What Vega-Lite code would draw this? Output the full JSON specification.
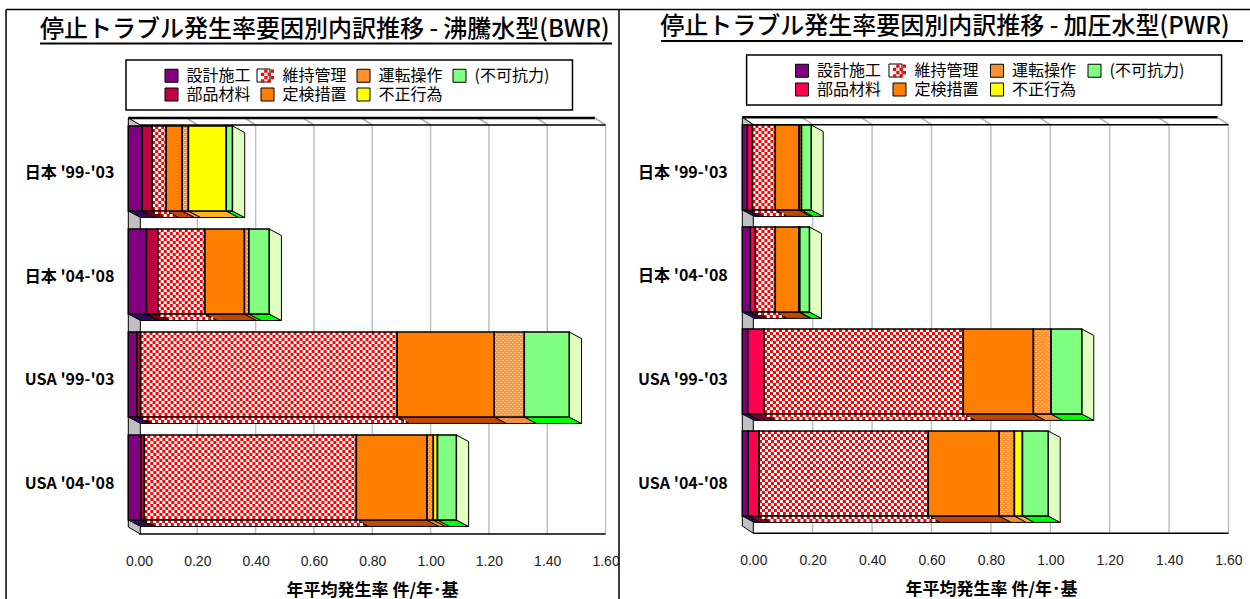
{
  "$schema": "https://vega.github.io/schema/vega-lite/v6.json",
  "padding": 0,
  "spacing": 0,
  "bounds": "flush",
  "background": "white",
  "resolve": {"scale": {"color": "independent"}, "legend": {"color": "independent"}},
  "datasets": {
    "one": [{"k": 1}],
    "bwr": [
      {"period": "日本 '99-'03", "cause": "設計施工", "value": 0.047},
      {"period": "日本 '99-'03", "cause": "部品材料", "value": 0.035},
      {"period": "日本 '99-'03", "cause": "維持管理", "value": 0.048},
      {"period": "日本 '99-'03", "cause": "定検措置", "value": 0.055},
      {"period": "日本 '99-'03", "cause": "運転操作", "value": 0.021},
      {"period": "日本 '99-'03", "cause": "不正行為", "value": 0.13},
      {"period": "日本 '99-'03", "cause": "(不可抗力)", "value": 0.021},
      {"period": "日本 '04-'08", "cause": "設計施工", "value": 0.062},
      {"period": "日本 '04-'08", "cause": "部品材料", "value": 0.039},
      {"period": "日本 '04-'08", "cause": "維持管理", "value": 0.161},
      {"period": "日本 '04-'08", "cause": "定検措置", "value": 0.136},
      {"period": "日本 '04-'08", "cause": "運転操作", "value": 0.015},
      {"period": "日本 '04-'08", "cause": "(不可抗力)", "value": 0.07},
      {"period": "USA '99-'03", "cause": "設計施工", "value": 0.029},
      {"period": "USA '99-'03", "cause": "部品材料", "value": 0.013},
      {"period": "USA '99-'03", "cause": "維持管理", "value": 0.88},
      {"period": "USA '99-'03", "cause": "定検措置", "value": 0.333},
      {"period": "USA '99-'03", "cause": "運転操作", "value": 0.103},
      {"period": "USA '99-'03", "cause": "(不可抗力)", "value": 0.154},
      {"period": "USA '04-'08", "cause": "設計施工", "value": 0.0425},
      {"period": "USA '04-'08", "cause": "部品材料", "value": 0.0125},
      {"period": "USA '04-'08", "cause": "維持管理", "value": 0.727},
      {"period": "USA '04-'08", "cause": "定検措置", "value": 0.242},
      {"period": "USA '04-'08", "cause": "運転操作", "value": 0.022},
      {"period": "USA '04-'08", "cause": "不正行為", "value": 0.014},
      {"period": "USA '04-'08", "cause": "(不可抗力)", "value": 0.065}
    ],
    "pwr": [
      {"period": "日本 '99-'03", "cause": "設計施工", "value": 0.017},
      {"period": "日本 '99-'03", "cause": "部品材料", "value": 0.017},
      {"period": "日本 '99-'03", "cause": "維持管理", "value": 0.077},
      {"period": "日本 '99-'03", "cause": "定検措置", "value": 0.08},
      {"period": "日本 '99-'03", "cause": "運転操作", "value": 0.008},
      {"period": "日本 '99-'03", "cause": "(不可抗力)", "value": 0.033},
      {"period": "日本 '04-'08", "cause": "設計施工", "value": 0.027},
      {"period": "日本 '04-'08", "cause": "部品材料", "value": 0.017},
      {"period": "日本 '04-'08", "cause": "維持管理", "value": 0.067},
      {"period": "日本 '04-'08", "cause": "定検措置", "value": 0.079},
      {"period": "日本 '04-'08", "cause": "運転操作", "value": 0.003},
      {"period": "日本 '04-'08", "cause": "(不可抗力)", "value": 0.033},
      {"period": "USA '99-'03", "cause": "設計施工", "value": 0.018},
      {"period": "USA '99-'03", "cause": "部品材料", "value": 0.055},
      {"period": "USA '99-'03", "cause": "維持管理", "value": 0.671},
      {"period": "USA '99-'03", "cause": "定検措置", "value": 0.236},
      {"period": "USA '99-'03", "cause": "運転操作", "value": 0.059},
      {"period": "USA '99-'03", "cause": "(不可抗力)", "value": 0.104},
      {"period": "USA '04-'08", "cause": "設計施工", "value": 0.02},
      {"period": "USA '04-'08", "cause": "部品材料", "value": 0.036},
      {"period": "USA '04-'08", "cause": "維持管理", "value": 0.57},
      {"period": "USA '04-'08", "cause": "定検措置", "value": 0.239},
      {"period": "USA '04-'08", "cause": "運転操作", "value": 0.051},
      {"period": "USA '04-'08", "cause": "不正行為", "value": 0.027},
      {"period": "USA '04-'08", "cause": "(不可抗力)", "value": 0.087}
    ],
    "ticks": [{"tick": 0}, {"tick": 0.2}, {"tick": 0.4}, {"tick": 0.6}, {"tick": 0.8}, {"tick": 1.0}, {"tick": 1.2}, {"tick": 1.4}, {"tick": 1.6}],
    "wallEdges": [{"edge": 0}, {"edge": 1}]
  },
  "hconcat": [
    {
      "width": 619,
      "height": 599,
      "view": {"stroke": null, "fill": "white"},
      "title": {"text": "停止トラブル発生率要因別内訳推移  -  沸騰水型(BWR)", "anchor": "start", "dx": 40, "offset": -42, "font": "Noto Sans CJK JP", "fontSize": 24, "fontWeight": 500, "color": "black"},
      "layer": [
        {
          "data": {"name": "ticks"},
          "transform": [{"calculate": "125", "as": "gy"}, {"calculate": "534", "as": "gy2"}],
          "mark": {"type": "rule", "color": "#C0C0C0", "strokeWidth": 1.5},
          "encoding": {
            "x": {"field": "tick", "type": "quantitative",
              "scale": {"domain": [-0.4767, 1.6461], "nice": false, "zero": false},
              "axis": {"title": "年平均発生率 件/年･基", "orient": "bottom", "offset": -65, "values": [0, 0.2, 0.4, 0.6, 0.8, 1.0, 1.2, 1.4, 1.6], "format": ".2f", "domain": false, "ticks": false, "grid": false, "labelBound": false, "labelFlush": false, "labelPadding": 20, "labelFont": "Liberation Sans", "labelFontSize": 14, "labelColor": "#222", "titleFont": "Noto Sans CJK JP", "titleFontSize": 17, "titleFontWeight": "bold", "titleColor": "black", "titleX": 372, "titleY": 61, "titleBaseline": "alphabetic"}},
            "y": {"field": "gy", "type": "quantitative",
              "scale": {"domain": [599, 0], "nice": false, "zero": false},
              "axis": {"title": null, "orient": "left", "offset": -128, "values": [172, 276, 379, 483], "labelExpr": "datum.value < 200 ? \"日本  '99-'03\" : datum.value < 300 ? \"日本  '04-'08\" : datum.value < 400 ? \"USA  '99-'03\" : \"USA  '04-'08\"", "domain": false, "ticks": false, "grid": false, "labelPadding": 14, "labelFont": "Noto Sans CJK JP", "labelFontSize": 16, "labelFontWeight": "bold", "labelColor": "black", "labelBound": false, "labelOverlap": false}},
            "y2": {"field": "gy2"}
          }
        },
        {
          "data": {"name": "ticks"},
          "transform": [{"calculate": "datum.tick - 0.0367", "as": "front"}, {"calculate": "118", "as": "gy"}, {"calculate": "125", "as": "gy2"}],
          "mark": {"type": "rule", "color": "#B0B0B0", "strokeWidth": 1.5},
          "encoding": {
            "x": {"field": "front", "type": "quantitative"},
            "x2": {"field": "tick"},
            "y": {"field": "gy", "type": "quantitative"},
            "y2": {"field": "gy2"}
          }
        },
        {
          "data": {"name": "wallEdges"},
          "transform": [
            {"calculate": "-0.0367 + datum.edge * 0.0412", "as": "wx"},
            {"calculate": "118 + datum.edge * 7", "as": "wy"},
            {"calculate": "527 + datum.edge * 7", "as": "wy2"}
          ],
          "mark": {"type": "area", "orient": "vertical", "fill": "#C0C0C0", "stroke": "black", "strokeWidth": 1},
          "encoding": {
            "x": {"field": "wx", "type": "quantitative"},
            "y": {"field": "wy", "type": "quantitative", "stack": null},
            "y2": {"field": "wy2"}
          }
        },
        {
          "data": {"name": "one"},
          "transform": [{"calculate": "-0.0367", "as": "ax"}, {"calculate": "1.5633", "as": "bx"}, {"calculate": "118", "as": "ay"}],
          "mark": {"type": "rule", "color": "black", "strokeWidth": 2.5},
          "encoding": {"x": {"field": "ax", "type": "quantitative"}, "x2": {"field": "bx"}, "y": {"field": "ay", "type": "quantitative"}}
        },
        {
          "data": {"name": "one"},
          "transform": [{"calculate": "0", "as": "ax"}, {"calculate": "1.6", "as": "bx"}, {"calculate": "[125, 534]", "as": "ay"}, {"flatten": ["ay"]}],
          "mark": {"type": "rule", "color": "black", "strokeWidth": 1.5},
          "encoding": {"x": {"field": "ax", "type": "quantitative"}, "x2": {"field": "bx"}, "y": {"field": "ay", "type": "quantitative"}}
        },
        {
          "data": {"name": "one"},
          "transform": [{"calculate": "-0.0446", "as": "ax"}, {"calculate": "1.4866", "as": "bx"}, {"calculate": "60", "as": "ay"}, {"calculate": "110", "as": "by"}],
          "mark": {"type": "rect", "fill": "white", "stroke": "black", "strokeWidth": 1.5},
          "encoding": {"x": {"field": "ax", "type": "quantitative"}, "x2": {"field": "bx"}, "y": {"field": "ay", "type": "quantitative"}, "y2": {"field": "by"}}
        },
        {
          "data": {"name": "one"},
          "transform": [{"calculate": "0.4047", "as": "ax"}, {"calculate": "0.4492", "as": "bx"}, {"calculate": "69", "as": "ay"}, {"calculate": "82", "as": "by"}],
          "mark": {"type": "rect", "fill": "white", "stroke": "black", "strokeWidth": 1},
          "encoding": {"x": {"field": "ax", "type": "quantitative"}, "x2": {"field": "bx"}, "y": {"field": "ay", "type": "quantitative"}, "y2": {"field": "by"}}
        },
        {
          "data": {"name": "one"},
          "transform": [{"calculate": "-0.3395", "as": "ax"}, {"calculate": "1.622", "as": "bx"}, {"calculate": "43.5", "as": "ay"}],
          "mark": {"type": "rule", "color": "black", "strokeWidth": 2},
          "encoding": {"x": {"field": "ax", "type": "quantitative"}, "x2": {"field": "bx"}, "y": {"field": "ay", "type": "quantitative"}}
        },
        {
          "data": {"name": "one"},
          "transform": [{"calculate": "-0.456", "as": "ax"}, {"calculate": "9.5", "as": "ay"}, {"calculate": "599", "as": "by"}],
          "mark": {"type": "rule", "color": "black", "strokeWidth": 1.5},
          "encoding": {"x": {"field": "ax", "type": "quantitative"}, "y": {"field": "ay", "type": "quantitative"}, "y2": {"field": "by"}}
        },
        {
          "data": {"name": "one"},
          "transform": [{"calculate": "-0.456", "as": "ax"}, {"calculate": "1.6461", "as": "bx"}, {"calculate": "9.5", "as": "ay"}],
          "mark": {"type": "rule", "color": "black", "strokeWidth": 1.5},
          "encoding": {"x": {"field": "ax", "type": "quantitative"}, "x2": {"field": "bx"}, "y": {"field": "ay", "type": "quantitative"}}
        },
        {
          "data": {"name": "bwr"},
          "transform": [
            {"calculate": "indexof(['設計施工','部品材料','維持管理','定検措置','運転操作','不正行為','(不可抗力)'], datum.cause)", "as": "seq"},
            {"calculate": "indexof([\"日本 '99-'03\",\"日本 '04-'08\",\"USA '99-'03\",\"USA '04-'08\"], datum.period)", "as": "slot"},
            {"stack": "value", "groupby": ["period"], "sort": [{"field": "seq", "order": "ascending"}], "as": ["start", "end"]},
            {"calculate": "datum.start - 0.0367", "as": "x0"},
            {"calculate": "datum.end - 0.0367", "as": "x1"},
            {"calculate": "126 + 103 * datum.slot", "as": "top"},
            {"calculate": "datum.top + 85", "as": "bot"},
            {"calculate": "{'設計施工':'#2E0A5A','部品材料':'#7A0010','維持管理':'#FF0000','定検措置':'#C04800','運転操作':'#F09040','不正行為':'#FFB020','(不可抗力)':'#00FF00'}[datum.cause]", "as": "shade"}
          ],
          "layer": [
            {
              "transform": [
                {"calculate": "[datum.x0, datum.x1, datum.x0 + 0.0422, datum.x1 + 0.0422]", "as": "px"},
                {"flatten": ["px"]},
                {"calculate": "datum.bot + max(0, datum.px - datum.x1) / 0.0422 * 6.5", "as": "fy"},
                {"calculate": "datum.bot + min(1, (datum.px - datum.x0) / 0.0422) * 6.5", "as": "fy2"}
              ],
              "mark": {"type": "area", "orient": "vertical", "stroke": "black", "strokeWidth": 1},
              "encoding": {
                "x": {"field": "px", "type": "quantitative"},
                "y": {"field": "fy", "type": "quantitative", "stack": null},
                "y2": {"field": "fy2"},
                "fill": {"field": "shade", "type": "nominal", "scale": null, "legend": null},
                "detail": [{"field": "period"}, {"field": "cause"}]
              }
            },
            {
              "transform": [
                {"filter": "datum.seq === 6"},
                {"calculate": "[datum.x1, datum.x1 + 0.0422]", "as": "px"},
                {"flatten": ["px"]},
                {"calculate": "datum.top + (datum.px - datum.x1) / 0.0422 * 6.5", "as": "fy"},
                {"calculate": "datum.bot + (datum.px - datum.x1) / 0.0422 * 6.5", "as": "fy2"}
              ],
              "mark": {"type": "area", "orient": "vertical", "fill": "#E0FFC0", "stroke": "black", "strokeWidth": 1},
              "encoding": {
                "x": {"field": "px", "type": "quantitative"},
                "y": {"field": "fy", "type": "quantitative", "stack": null},
                "y2": {"field": "fy2"},
                "detail": {"field": "period"}
              }
            },
            {
              "mark": {"type": "rect"},
              "encoding": {
                "x": {"field": "x0", "type": "quantitative"},
                "x2": {"field": "x1"},
                "y": {"field": "top", "type": "quantitative"},
                "y2": {"field": "bot"},
                "color": {
                  "field": "cause", "type": "nominal",
                  "scale": {"domain": ["設計施工", "維持管理", "運転操作", "(不可抗力)", "部品材料", "定検措置", "不正行為"], "range": ["#800080", "#FF0000", "#FF9030", "#80FF80", "#C00040", "#FF8000", "#FFFF00"]},
                  "legend": {"orient": "none", "legendX": 163.5, "legendY": 67.5, "title": null, "columns": 4, "direction": "horizontal", "padding": 0, "symbolType": "square", "symbolSize": 169, "symbolOpacity": 1, "columnPadding": 7, "rowPadding": 1, "labelOffset": 7, "labelFont": "Noto Sans CJK JP", "labelFontSize": 16, "labelColor": "black", "labelLimit": 200,
                    "encoding": {"symbols": {
                      "shape": {"value": {"signal": "datum.value === '維持管理' ? 'M-.5-1H0V-.5H-.5ZM.5-1H1V-.5H.5ZM-1-.5H-.5V0H-1ZM0-.5H.5V0H0ZM-.5 0H0V.5H-.5ZM.5 0H1V.5H.5ZM-1 .5H-.5V1H-1ZM0 .5H.5V1H0Z' : 'square'"}},
                      "stroke": {"value": "black"},
                      "strokeWidth": {"value": {"signal": "datum.value === '維持管理' ? 0 : 1"}}
                    }}
                  }
                }
              }
            },
            {
              "transform": [
                {"filter": "datum.cause === '維持管理'"},
                {"calculate": "[1.5,4.5,7.5,10.5,13.5,16.5,19.5,22.5,25.5,28.5,31.5,34.5,37.5,40.5,43.5,46.5,49.5,52.5,55.5,58.5,61.5,64.5,67.5,70.5,73.5,76.5,79.5,82.5,86.5,89.5]", "as": "off"},
                {"flatten": ["off"]},
                {"calculate": "datum.off > 85 ? (datum.off - 85) / 6.5 * 0.0422 : 0", "as": "sh"},
                {"calculate": "datum.x0 + datum.sh", "as": "rx"},
                {"calculate": "datum.x1 + datum.sh", "as": "rx2"},
                {"calculate": "datum.top + datum.off", "as": "ry"},
                {"calculate": "floor(datum.off / 3) % 2", "as": "odd"}
              ],
              "layer": [
                {
                  "transform": [{"filter": "datum.odd === 0"}],
                  "mark": {"type": "rule", "color": "white", "strokeWidth": 3, "strokeDash": [3, 3]},
                  "encoding": {"x": {"field": "rx", "type": "quantitative"}, "x2": {"field": "rx2"}, "y": {"field": "ry", "type": "quantitative"}}
                },
                {
                  "transform": [{"filter": "datum.odd === 1"}],
                  "mark": {"type": "rule", "color": "white", "strokeWidth": 3, "strokeDash": [3, 3], "strokeDashOffset": 3},
                  "encoding": {"x": {"field": "rx", "type": "quantitative"}, "x2": {"field": "rx2"}, "y": {"field": "ry", "type": "quantitative"}}
                }
              ]
            },
            {
              "transform": [
                {"filter": "datum.cause === '運転操作'"},
                {"calculate": "[0.5,2.5,4.5,6.5,8.5,10.5,12.5,14.5,16.5,18.5,20.5,22.5,24.5,26.5,28.5,30.5,32.5,34.5,36.5,38.5,40.5,42.5,44.5,46.5,48.5,50.5,52.5,54.5,56.5,58.5,60.5,62.5,64.5,66.5,68.5,70.5,72.5,74.5,76.5,78.5,80.5,82.5,84.5]", "as": "off"},
                {"flatten": ["off"]},
                {"calculate": "datum.top + datum.off", "as": "ry"},
                {"calculate": "floor(datum.off / 2) % 2", "as": "odd"}
              ],
              "layer": [
                {
                  "transform": [{"filter": "datum.odd === 0"}],
                  "mark": {"type": "rule", "color": "#FFD0A0", "strokeWidth": 1, "strokeDash": [2, 2]},
                  "encoding": {"x": {"field": "x0", "type": "quantitative"}, "x2": {"field": "x1"}, "y": {"field": "ry", "type": "quantitative"}}
                },
                {
                  "transform": [{"filter": "datum.odd === 1"}],
                  "mark": {"type": "rule", "color": "#FFD0A0", "strokeWidth": 1, "strokeDash": [2, 2], "strokeDashOffset": 2},
                  "encoding": {"x": {"field": "x0", "type": "quantitative"}, "x2": {"field": "x1"}, "y": {"field": "ry", "type": "quantitative"}}
                }
              ]
            },
            {
              "mark": {"type": "rect", "fillOpacity": 0, "stroke": "black", "strokeWidth": 1.5},
              "encoding": {
                "x": {"field": "x0", "type": "quantitative"},
                "x2": {"field": "x1"},
                "y": {"field": "top", "type": "quantitative"},
                "y2": {"field": "bot"}
              }
            }
          ]
        }
      ]
    },
    {
      "width": 631,
      "height": 599,
      "view": {"stroke": null, "fill": "white"},
      "title": {"text": "停止トラブル発生率要因別内訳推移   -   加圧水型(PWR)", "anchor": "start", "dx": 42, "offset": -39, "font": "Noto Sans CJK JP", "fontSize": 24, "fontWeight": 500, "color": "black"},
      "layer": [
        {
          "data": {"name": "ticks"},
          "transform": [{"calculate": "124.7", "as": "gy"}, {"calculate": "533.3", "as": "gy2"}],
          "mark": {"type": "rule", "color": "#C0C0C0", "strokeWidth": 1.5},
          "encoding": {
            "x": {"field": "tick", "type": "quantitative",
              "scale": {"domain": [-0.4522, 1.6724], "nice": false, "zero": false},
              "axis": {"title": "年平均発生率 件/年･基", "orient": "bottom", "offset": -65.7, "values": [0, 0.2, 0.4, 0.6, 0.8, 1.0, 1.2, 1.4, 1.6], "format": ".2f", "domain": false, "ticks": false, "grid": false, "labelBound": false, "labelFlush": false, "labelPadding": 20, "labelFont": "Liberation Sans", "labelFontSize": 14, "labelColor": "#222", "titleFont": "Noto Sans CJK JP", "titleFontSize": 17, "titleFontWeight": "bold", "titleColor": "black", "titleX": 372, "titleY": 61, "titleBaseline": "alphabetic"}},
            "y": {"field": "gy", "type": "quantitative",
              "scale": {"domain": [599, 0], "nice": false, "zero": false},
              "axis": {"title": null, "orient": "left", "offset": -123.3, "values": [172, 275, 379, 483], "labelExpr": "datum.value < 200 ? \"日本  '99-'03\" : datum.value < 300 ? \"日本  '04-'08\" : datum.value < 400 ? \"USA  '99-'03\" : \"USA  '04-'08\"", "domain": false, "ticks": false, "grid": false, "labelPadding": 15, "labelFont": "Noto Sans CJK JP", "labelFontSize": 16, "labelFontWeight": "bold", "labelColor": "black", "labelBound": false, "labelOverlap": false}},
            "y2": {"field": "gy2"}
          }
        },
        {
          "data": {"name": "ticks"},
          "transform": [{"calculate": "datum.tick - 0.037", "as": "front"}, {"calculate": "117.3", "as": "gy"}, {"calculate": "124.7", "as": "gy2"}],
          "mark": {"type": "rule", "color": "#B0B0B0", "strokeWidth": 1.5},
          "encoding": {
            "x": {"field": "front", "type": "quantitative"},
            "x2": {"field": "tick"},
            "y": {"field": "gy", "type": "quantitative"},
            "y2": {"field": "gy2"}
          }
        },
        {
          "data": {"name": "wallEdges"},
          "transform": [
            {"calculate": "-0.037 + datum.edge * 0.037", "as": "wx"},
            {"calculate": "117.3 + datum.edge * 7.4", "as": "wy"},
            {"calculate": "526 + datum.edge * 7.3", "as": "wy2"}
          ],
          "mark": {"type": "area", "orient": "vertical", "fill": "#C0C0C0", "stroke": "black", "strokeWidth": 1},
          "encoding": {
            "x": {"field": "wx", "type": "quantitative"},
            "y": {"field": "wy", "type": "quantitative", "stack": null},
            "y2": {"field": "wy2"}
          }
        },
        {
          "data": {"name": "one"},
          "transform": [{"calculate": "-0.037", "as": "ax"}, {"calculate": "1.563", "as": "bx"}, {"calculate": "117.3", "as": "ay"}],
          "mark": {"type": "rule", "color": "black", "strokeWidth": 2.5},
          "encoding": {"x": {"field": "ax", "type": "quantitative"}, "x2": {"field": "bx"}, "y": {"field": "ay", "type": "quantitative"}}
        },
        {
          "data": {"name": "one"},
          "transform": [{"calculate": "0", "as": "ax"}, {"calculate": "1.6", "as": "bx"}, {"calculate": "[124.7, 533.3]", "as": "ay"}, {"flatten": ["ay"]}],
          "mark": {"type": "rule", "color": "black", "strokeWidth": 1.5},
          "encoding": {"x": {"field": "ax", "type": "quantitative"}, "x2": {"field": "bx"}, "y": {"field": "ay", "type": "quantitative"}}
        },
        {
          "data": {"name": "one"},
          "transform": [{"calculate": "-0.0226", "as": "ax"}, {"calculate": "1.5768", "as": "bx"}, {"calculate": "55", "as": "ay"}, {"calculate": "105", "as": "by"}],
          "mark": {"type": "rect", "fill": "white", "stroke": "black", "strokeWidth": 1.5},
          "encoding": {"x": {"field": "ax", "type": "quantitative"}, "x2": {"field": "bx"}, "y": {"field": "ay", "type": "quantitative"}, "y2": {"field": "by"}}
        },
        {
          "data": {"name": "one"},
          "transform": [{"calculate": "0.4569", "as": "ax"}, {"calculate": "0.5007", "as": "bx"}, {"calculate": "64", "as": "ay"}, {"calculate": "77", "as": "by"}],
          "mark": {"type": "rect", "fill": "white", "stroke": "black", "strokeWidth": 1},
          "encoding": {"x": {"field": "ax", "type": "quantitative"}, "x2": {"field": "bx"}, "y": {"field": "ay", "type": "quantitative"}, "y2": {"field": "by"}}
        },
        {
          "data": {"name": "one"},
          "transform": [{"calculate": "-0.3104", "as": "ax"}, {"calculate": "1.6488", "as": "bx"}, {"calculate": "41", "as": "ay"}],
          "mark": {"type": "rule", "color": "black", "strokeWidth": 2},
          "encoding": {"x": {"field": "ax", "type": "quantitative"}, "x2": {"field": "bx"}, "y": {"field": "ay", "type": "quantitative"}}
        },
        {
          "data": {"name": "one"},
          "transform": [{"calculate": "-0.4522", "as": "ax"}, {"calculate": "9.5", "as": "ay"}, {"calculate": "599", "as": "by"}],
          "mark": {"type": "rule", "color": "black", "strokeWidth": 1.5},
          "encoding": {"x": {"field": "ax", "type": "quantitative"}, "y": {"field": "ay", "type": "quantitative"}, "y2": {"field": "by"}}
        },
        {
          "data": {"name": "one"},
          "transform": [{"calculate": "-0.4522", "as": "ax"}, {"calculate": "1.6724", "as": "bx"}, {"calculate": "9.5", "as": "ay"}],
          "mark": {"type": "rule", "color": "black", "strokeWidth": 1.5},
          "encoding": {"x": {"field": "ax", "type": "quantitative"}, "x2": {"field": "bx"}, "y": {"field": "ay", "type": "quantitative"}}
        },
        {
          "data": {"name": "pwr"},
          "transform": [
            {"calculate": "indexof(['設計施工','部品材料','維持管理','定検措置','運転操作','不正行為','(不可抗力)'], datum.cause)", "as": "seq"},
            {"calculate": "indexof([\"日本 '99-'03\",\"日本 '04-'08\",\"USA '99-'03\",\"USA '04-'08\"], datum.period)", "as": "slot"},
            {"stack": "value", "groupby": ["period"], "sort": [{"field": "seq", "order": "ascending"}], "as": ["start", "end"]},
            {"calculate": "datum.start - 0.037", "as": "x0"},
            {"calculate": "datum.end - 0.037", "as": "x1"},
            {"calculate": "125 + 102 * datum.slot", "as": "top"},
            {"calculate": "datum.top + 85", "as": "bot"},
            {"calculate": "{'設計施工':'#2E0A5A','部品材料':'#800028','維持管理':'#FF0000','定検措置':'#C04800','運転操作':'#F09040','不正行為':'#FFB020','(不可抗力)':'#00FF00'}[datum.cause]", "as": "shade"}
          ],
          "layer": [
            {
              "transform": [
                {"calculate": "[datum.x0, datum.x1, datum.x0 + 0.0404, datum.x1 + 0.0404]", "as": "px"},
                {"flatten": ["px"]},
                {"calculate": "datum.bot + max(0, datum.px - datum.x1) / 0.0404 * 6.4", "as": "fy"},
                {"calculate": "datum.bot + min(1, (datum.px - datum.x0) / 0.0404) * 6.4", "as": "fy2"}
              ],
              "mark": {"type": "area", "orient": "vertical", "stroke": "black", "strokeWidth": 1},
              "encoding": {
                "x": {"field": "px", "type": "quantitative"},
                "y": {"field": "fy", "type": "quantitative", "stack": null},
                "y2": {"field": "fy2"},
                "fill": {"field": "shade", "type": "nominal", "scale": null, "legend": null},
                "detail": [{"field": "period"}, {"field": "cause"}]
              }
            },
            {
              "transform": [
                {"filter": "datum.seq === 6"},
                {"calculate": "[datum.x1, datum.x1 + 0.0404]", "as": "px"},
                {"flatten": ["px"]},
                {"calculate": "datum.top + (datum.px - datum.x1) / 0.0404 * 6.4", "as": "fy"},
                {"calculate": "datum.bot + (datum.px - datum.x1) / 0.0404 * 6.4", "as": "fy2"}
              ],
              "mark": {"type": "area", "orient": "vertical", "fill": "#E0FFC0", "stroke": "black", "strokeWidth": 1},
              "encoding": {
                "x": {"field": "px", "type": "quantitative"},
                "y": {"field": "fy", "type": "quantitative", "stack": null},
                "y2": {"field": "fy2"},
                "detail": {"field": "period"}
              }
            },
            {
              "mark": {"type": "rect"},
              "encoding": {
                "x": {"field": "x0", "type": "quantitative"},
                "x2": {"field": "x1"},
                "y": {"field": "top", "type": "quantitative"},
                "y2": {"field": "bot"},
                "color": {
                  "field": "cause", "type": "nominal",
                  "scale": {"domain": ["設計施工", "維持管理", "運転操作", "(不可抗力)", "部品材料", "定検措置", "不正行為"], "range": ["#800080", "#FF0000", "#FF9030", "#80FF80", "#FF0050", "#FF8000", "#FFFF00"]},
                  "legend": {"orient": "none", "legendX": 175, "legendY": 62.5, "title": null, "columns": 4, "direction": "horizontal", "padding": 0, "symbolType": "square", "symbolSize": 169, "symbolOpacity": 1, "columnPadding": 8.5, "rowPadding": 1, "labelOffset": 7, "labelFont": "Noto Sans CJK JP", "labelFontSize": 16, "labelColor": "black", "labelLimit": 200,
                    "encoding": {"symbols": {
                      "shape": {"value": {"signal": "datum.value === '維持管理' ? 'M-.5-1H0V-.5H-.5ZM.5-1H1V-.5H.5ZM-1-.5H-.5V0H-1ZM0-.5H.5V0H0ZM-.5 0H0V.5H-.5ZM.5 0H1V.5H.5ZM-1 .5H-.5V1H-1ZM0 .5H.5V1H0Z' : 'square'"}},
                      "stroke": {"value": "black"},
                      "strokeWidth": {"value": {"signal": "datum.value === '維持管理' ? 0 : 1"}}
                    }}
                  }
                }
              }
            },
            {
              "transform": [
                {"filter": "datum.cause === '維持管理'"},
                {"calculate": "[1.5,4.5,7.5,10.5,13.5,16.5,19.5,22.5,25.5,28.5,31.5,34.5,37.5,40.5,43.5,46.5,49.5,52.5,55.5,58.5,61.5,64.5,67.5,70.5,73.5,76.5,79.5,82.5,86.5,89.5]", "as": "off"},
                {"flatten": ["off"]},
                {"calculate": "datum.off > 85 ? (datum.off - 85) / 6.4 * 0.0404 : 0", "as": "sh"},
                {"calculate": "datum.x0 + datum.sh", "as": "rx"},
                {"calculate": "datum.x1 + datum.sh", "as": "rx2"},
                {"calculate": "datum.top + datum.off", "as": "ry"},
                {"calculate": "floor(datum.off / 3) % 2", "as": "odd"}
              ],
              "layer": [
                {
                  "transform": [{"filter": "datum.odd === 0"}],
                  "mark": {"type": "rule", "color": "white", "strokeWidth": 3, "strokeDash": [3, 3]},
                  "encoding": {"x": {"field": "rx", "type": "quantitative"}, "x2": {"field": "rx2"}, "y": {"field": "ry", "type": "quantitative"}}
                },
                {
                  "transform": [{"filter": "datum.odd === 1"}],
                  "mark": {"type": "rule", "color": "white", "strokeWidth": 3, "strokeDash": [3, 3], "strokeDashOffset": 3},
                  "encoding": {"x": {"field": "rx", "type": "quantitative"}, "x2": {"field": "rx2"}, "y": {"field": "ry", "type": "quantitative"}}
                }
              ]
            },
            {
              "transform": [
                {"filter": "datum.cause === '運転操作'"},
                {"calculate": "[0.5,2.5,4.5,6.5,8.5,10.5,12.5,14.5,16.5,18.5,20.5,22.5,24.5,26.5,28.5,30.5,32.5,34.5,36.5,38.5,40.5,42.5,44.5,46.5,48.5,50.5,52.5,54.5,56.5,58.5,60.5,62.5,64.5,66.5,68.5,70.5,72.5,74.5,76.5,78.5,80.5,82.5,84.5]", "as": "off"},
                {"flatten": ["off"]},
                {"calculate": "datum.top + datum.off", "as": "ry"},
                {"calculate": "floor(datum.off / 2) % 2", "as": "odd"}
              ],
              "layer": [
                {
                  "transform": [{"filter": "datum.odd === 0"}],
                  "mark": {"type": "rule", "color": "#FFD0A0", "strokeWidth": 1, "strokeDash": [2, 2]},
                  "encoding": {"x": {"field": "x0", "type": "quantitative"}, "x2": {"field": "x1"}, "y": {"field": "ry", "type": "quantitative"}}
                },
                {
                  "transform": [{"filter": "datum.odd === 1"}],
                  "mark": {"type": "rule", "color": "#FFD0A0", "strokeWidth": 1, "strokeDash": [2, 2], "strokeDashOffset": 2},
                  "encoding": {"x": {"field": "x0", "type": "quantitative"}, "x2": {"field": "x1"}, "y": {"field": "ry", "type": "quantitative"}}
                }
              ]
            },
            {
              "mark": {"type": "rect", "fillOpacity": 0, "stroke": "black", "strokeWidth": 1.5},
              "encoding": {
                "x": {"field": "x0", "type": "quantitative"},
                "x2": {"field": "x1"},
                "y": {"field": "top", "type": "quantitative"},
                "y2": {"field": "bot"}
              }
            }
          ]
        }
      ]
    }
  ]
}
